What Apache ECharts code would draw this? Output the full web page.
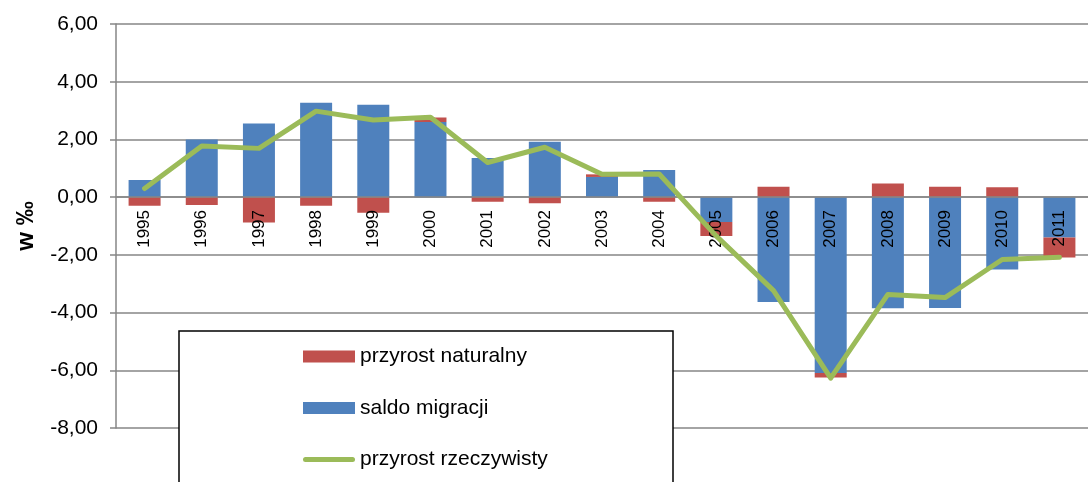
<!DOCTYPE html>
<html>
<head>
<meta charset="utf-8">
<title>przyrost</title>
<script src="https://cdn.jsdelivr.net/npm/echarts@6/dist/echarts.min.js"></script>
<style>
  html, body { margin: 0; padding: 0; background: #ffffff; }
  #chart { width: 1088px; height: 482px; }
</style>
</head>
<body>
<div id="chart"></div>
<script>
// dane
var years = ["1995", "1996", "1997", "1998", "1999", "2000", "2001", "2002", "2003",
  "2004", "2005", "2006", "2007", "2008", "2009", "2010", "2011"];
var saldoMigracji = [0.59, 2.00, 2.55, 3.27, 3.20, 2.60, 1.36, 1.92, 0.70,
  0.94, -0.86, -3.63, -6.09, -3.85, -3.84, -2.51, -1.40];
var przyrostNaturalny = [-0.30, -0.27, -0.88, -0.30, -0.54, 0.16, -0.16, -0.21, 0.09,
  -0.16, -0.49, 0.36, -0.16, 0.47, 0.36, 0.34, -0.69];
var przyrostRzeczywisty = [0.30, 1.77, 1.69, 2.98, 2.67, 2.77, 1.20, 1.73, 0.79,
  0.80, -1.35, -3.24, -6.27, -3.37, -3.48, -2.16, -2.08];

var font = '"Liberation Sans", Arial, sans-serif';
var gridColor = "#868686";

var chart = echarts.init(document.getElementById("chart"));
var options = {
  animation: false,
  textStyle: { fontFamily: font },
  grid: {
    left: 116,
    top: 24,
    width: 980,
    bottom: 54,
    containLabel: false,
  },
  legend: {
    orient: "vertical",
    left: 303,
    top: 346,
    padding: 0,
    z: 20,
    itemWidth: 52,
    itemHeight: 12,
    itemGap: 30.5,
    textStyle: { fontSize: 21, color: "#000000", lineHeight: 21 },
    data: [
      { name: "przyrost naturalny", icon: "rect" },
      { name: "saldo migracji", icon: "rect" },
      { name: "przyrost rzeczywisty", icon: "path://M2.5,0 L49.5,0 A2.5,2.5 0 0 1 49.5,5 L2.5,5 A2.5,2.5 0 0 1 2.5,0 Z" },
    ],
  },
  // ramka legendy
  graphic: [
    {
      type: "rect",
      z: 10,
      shape: { x: 179, y: 331, width: 494, height: 200 },
      style: { fill: "#ffffff", stroke: "#000000", lineWidth: 1.5 },
    },
  ],
  xAxis: {
    type: "category",
    data: years,
    z: 3,
    offset: -231, // oś na wysokości zera
    axisLine: { onZero: false, lineStyle: { color: gridColor, width: 1.5 } },
    axisTick: { show: false },
    axisLabel: {
      interval: 0,
      rotate: 90,
      margin: 13,
      fontSize: 17,
      color: "#000000",
    },
  },
  yAxis: {
    type: "value",
    min: -8,
    max: 6,
    interval: 2,
    name: "w \u2030",
    nameLocation: "middle",
    nameGap: 78,
    nameTextStyle: { fontSize: 24, fontWeight: "bold", color: "#000000" },
    axisLine: { show: true, lineStyle: { color: gridColor, width: 1.5 } },
    axisTick: { show: true, length: 6, lineStyle: { color: gridColor, width: 1.5 } },
    axisLabel: {
      margin: 18,
      fontSize: 21,
      color: "#000000",
      formatter: function (v) {
        return v.toFixed(2).replace(".", ",");
      },
    },
    splitLine: { show: true, lineStyle: { color: gridColor, width: 1.5 } },
  },
  series: [
    {
      name: "saldo migracji",
      type: "bar",
      stack: "total",
      barWidth: 32,
      data: saldoMigracji,
      itemStyle: { color: "#4F81BD" },
    },
    {
      name: "przyrost naturalny",
      type: "bar",
      stack: "total",
      barWidth: 32,
      data: przyrostNaturalny,
      itemStyle: { color: "#C0504D" },
    },
    {
      name: "przyrost rzeczywisty",
      type: "line",
      data: przyrostRzeczywisty,
      symbol: "none",
      z: 5,
      lineStyle: { color: "#9BBB59", width: 5, join: "round", cap: "round" },
      itemStyle: { color: "#9BBB59" },
    },
  ],
};
chart.setOption(options);
window.addEventListener("resize", function () {
  chart.resize();
});
</script>
</body>
</html>
